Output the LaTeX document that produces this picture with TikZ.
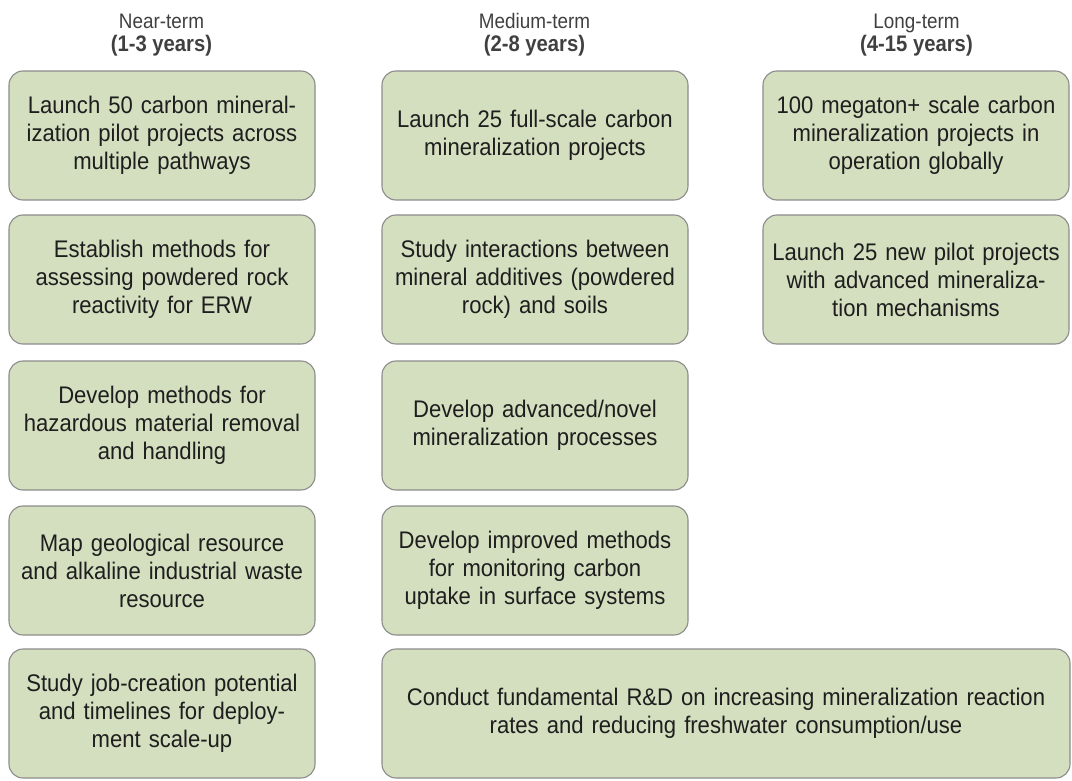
\documentclass[tikz,border=0pt]{standalone}
\usepackage{fontspec}
\setmainfont{Liberation Sans}
% slightly narrowed sans for the cards and the headings
\newfontfamily\cardfont[FakeStretch=0.92]{Liberation Sans}
\newfontfamily\headfont[FakeStretch=0.9]{Liberation Sans}
\begin{document}
\begin{tikzpicture}[x=1pt,y=-1pt,
  every node/.style={inner sep=0pt,outer sep=0pt},
  card/.style={draw=boxline,line width=1.1pt,fill=boxfill,rounded corners=14pt,
    anchor=north west,minimum height=129pt,align=center,text=boxtext,
    font=\cardfont\fontsize{24}{28}\selectfont},
  narrow/.style={card,minimum width=306pt,text width=296pt},
  wide/.style={card,minimum width=688pt,text width=670pt},
  head/.style={anchor=base,text=headtext,font=\headfont\fontsize{21}{24}\selectfont},
  headbold/.style={anchor=base,text=headtext,font=\headfont\bfseries\fontsize{22.5}{24}\selectfont}
]
\definecolor{boxfill}{RGB}{211,223,191}
\definecolor{boxline}{RGB}{140,140,140}
\definecolor{boxtext}{RGB}{30,30,30}
\definecolor{headtext}{RGB}{64,64,64}
\useasboundingbox (0,0) rectangle (1072,781);

% column headings
\node[head] (h1) at (161.5,28.5) {Near-term};
\node[headbold] (h1b) at (161.5,52) {(1-3 years)};
\node[head] (h2) at (534.5,28.5) {Medium-term};
\node[headbold] (h2b) at (534.5,52) {(2-8 years)};
\node[head] (h3) at (916.5,28.5) {Long-term};
\node[headbold] (h3b) at (916.5,52) {(4-15 years)};

% near-term
\node[narrow] (n1) at (9,71) {Launch 50 carbon mineral-\\ization pilot projects across\\multiple pathways};
\node[narrow] (n2) at (9,215) {Establish methods for\\assessing powdered rock\\reactivity for ERW};
\node[narrow] (n3) at (9,361) {Develop methods for\\hazardous material removal\\and handling};
\node[narrow] (n4) at (9,506) {Map geological resource\\and alkaline industrial waste\\resource};
\node[narrow] (n5) at (9,649) {Study job-creation potential\\and timelines for deploy-\\ment scale-up};

% medium-term
\node[narrow] (m1) at (382,71) {Launch 25 full-scale carbon\\mineralization projects};
\node[narrow] (m2) at (382,215) {Study interactions between\\mineral additives (powdered\\rock) and soils};
\node[narrow] (m3) at (382,361) {Develop advanced/novel\\mineralization processes};
\node[narrow] (m4) at (382,506) {Develop improved methods\\for monitoring carbon\\uptake in surface systems};

% long-term
\node[narrow] (l1) at (763,71) {100 megaton+ scale carbon\\mineralization projects in\\operation globally};
\node[narrow] (l2) at (763,215) {Launch 25 new pilot projects\\with advanced mineraliza-\\tion mechanisms};

% spans medium and long term
\node[wide] (rd) at (382,649) {Conduct fundamental R\&D on increasing mineralization reaction\\rates and reducing freshwater consumption/use};
\end{tikzpicture}
\end{document}
